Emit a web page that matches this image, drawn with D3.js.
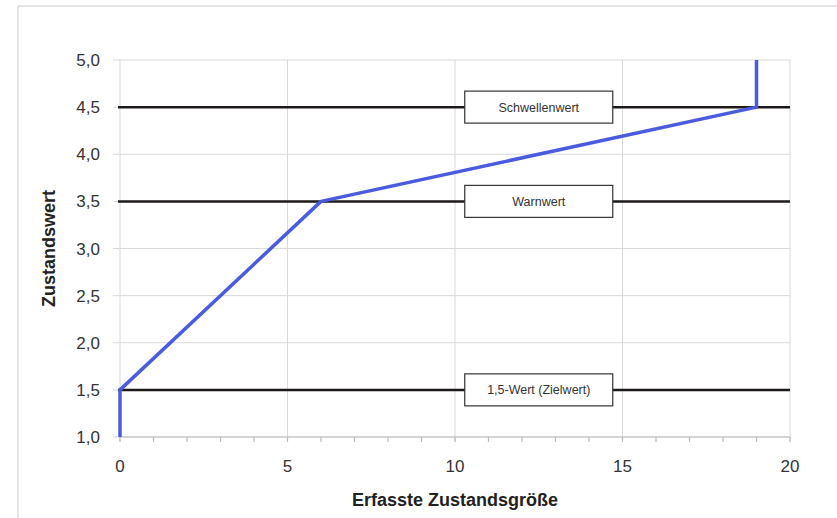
<!DOCTYPE html>
<html><head><meta charset="utf-8">
<script src="https://cdn.jsdelivr.net/npm/d3@7"></script>
<style>body{margin:0;background:#fff}svg{display:block}</style>
</head><body><svg id="c" width="837" height="518"></svg>
<script>
const curveX = [0, 0, 6, 19, 19];
const curveY = [1.0, 1.5, 3.5, 4.5, 5.0];
const refValues = [1.5, 3.5, 4.5];
const refLabels = ["1,5-Wert (Zielwert)", "Warnwert", "Schwellenwert"];
const refLabelX = [12.5, 12.5, 12.5];
const xTicks = [0, 5, 10, 15, 20];
const xMinorTicks = d3.range(0, 21, 1);
const yTicks = [1.0, 1.5, 2.0, 2.5, 3.0, 3.5, 4.0, 4.5, 5.0];
const xTitle = "Erfasste Zustandsgröße";
const yTitle = "Zustandswert";

const svg = d3.select("#c");
const m = {l:120, r:47, t:60, b:81};
const W = 837, H = 518;
const x = d3.scaleLinear().domain([0,20]).range([m.l, W-m.r]);
const y = d3.scaleLinear().domain([1,5]).range([H-m.b, m.t]);
const fmt = d => d3.format(".1f")(d).replace(".", ",");

// outer frame
svg.append("rect").attr("x",18).attr("y",6).attr("width",830).attr("height",530)
  .attr("fill","none").attr("stroke","#ddd").attr("stroke-width",1.5);

// gridlines
const g = svg.append("g");
g.selectAll(".hg").data(yTicks).join("line")
  .attr("x1", x(0)-7).attr("x2", x(20)).attr("y1", d=>y(d)).attr("y2", d=>y(d))
  .attr("stroke","#d9d9d9").attr("stroke-width",1);
g.selectAll(".vg").data(xTicks).join("line")
  .attr("x1", d=>x(d)).attr("x2", d=>x(d)).attr("y1", y(5)).attr("y2", y(1)+5)
  .attr("stroke","#d9d9d9").attr("stroke-width",1);
// x axis line with minor ticks
g.append("line").attr("x1",x(0)).attr("x2",x(20)).attr("y1",y(1)).attr("y2",y(1))
  .attr("stroke","#bbb").attr("stroke-width",1.2);
g.selectAll(".mt").data(xMinorTicks).join("line")
  .attr("x1", d=>x(d)).attr("x2", d=>x(d)).attr("y1", y(1)).attr("y2", y(1)+5)
  .attr("stroke","#bbb").attr("stroke-width",1.2);

// tick labels
svg.selectAll(".yl").data(yTicks).join("text")
  .attr("x", 100).attr("y", d=>y(d)).attr("dy","0.36em").attr("text-anchor","end")
  .attr("font-family","Liberation Sans, Arial, sans-serif").attr("font-size",17).attr("fill","#333")
  .text(fmt);
svg.selectAll(".xl").data(xTicks).join("text")
  .attr("x", d=>x(d)).attr("y", 472).attr("text-anchor","middle")
  .attr("font-family","Liberation Sans, Arial, sans-serif").attr("font-size",17).attr("fill","#333")
  .text(d=>d);

// titles
svg.append("text").attr("x", 455).attr("y", 506).attr("text-anchor","middle")
  .attr("font-family","Liberation Sans, Arial, sans-serif").attr("font-size",18).attr("font-weight","bold").attr("fill","#222")
  .text(xTitle);
svg.append("text").attr("transform", `translate(55,${(y(1)+y(5))/2}) rotate(-90)`).attr("text-anchor","middle")
  .attr("font-family","Liberation Sans, Arial, sans-serif").attr("font-size",18).attr("font-weight","bold").attr("fill","#222")
  .text(yTitle);

// reference lines
svg.selectAll(".ref").data(refValues).join("line")
  .attr("x1", x(0)-2).attr("x2", x(20)).attr("y1", d=>y(d)).attr("y2", d=>y(d))
  .attr("stroke","#1e1a1a").attr("stroke-width",2.5);

// curve
const pts = curveX.map((v,i)=>[v, curveY[i]]);
svg.append("path").datum(pts)
  .attr("d", d3.line().x(d=>x(d[0])).y(d=>y(d[1])))
  .attr("fill","none").attr("stroke","#4a5be0").attr("stroke-width",3.5).attr("stroke-linejoin","round");

// label boxes
const bw = 148, bh = 32;
const lb = svg.selectAll(".lb").data(refValues).join("g")
  .attr("transform", (d,i)=>`translate(${x(refLabelX[i])},${y(d)})`);
lb.append("rect").attr("x",-bw/2).attr("y",-bh/2).attr("width",bw).attr("height",bh)
  .attr("fill","#fff").attr("stroke","#333").attr("stroke-width",1.2);
lb.append("text").attr("text-anchor","middle").attr("dy","0.36em")
  .attr("font-family","Liberation Sans, Arial, sans-serif").attr("font-size",12.5).attr("fill","#333")
  .text((d,i)=>refLabels[i]);
</script></body></html>
